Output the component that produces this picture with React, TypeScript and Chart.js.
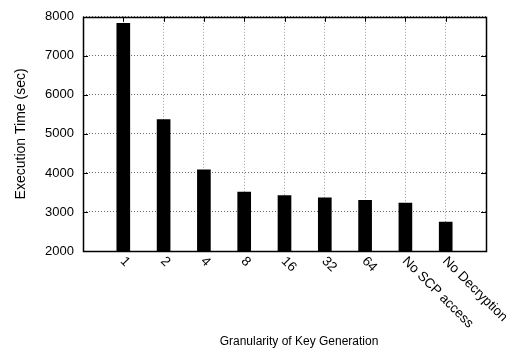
import React, { useEffect, useRef } from "react";
import { Chart, registerables } from "chart.js";

Chart.register(...registerables);

const categories: string[] = ["1", "2", "4", "8", "16", "32", "64", "No SCP access", "No Decryption"];
const executionTimes: number[] = [7830, 5370, 4080, 3510, 3420, 3360, 3300, 3230, 2740];
const yTicks: number[] = [2000, 3000, 4000, 5000, 6000, 7000, 8000];
const xTitle = "Granularity of Key Generation";
const yTitle = "Execution Time (sec)";

const FAMILY = "'Liberation Sans', Arial, sans-serif";

const decorPlugin = {
  id: "decor",
  afterDraw(chart: any) {
    const { ctx, chartArea } = chart;
    const xs = chart.scales.x;
    const ys = chart.scales.y;
    const { left, right, top, bottom } = chartArea;
    ctx.save();
    // inner tick marks
    ctx.strokeStyle = "#000";
    ctx.lineWidth = 1;
    ctx.beginPath();
    yTicks.forEach((v) => {
      const y = Math.round(ys.getPixelForValue(v)) + 0.5;
      ctx.moveTo(left, y);
      ctx.lineTo(left + 5, y);
      ctx.moveTo(right, y);
      ctx.lineTo(right - 5, y);
    });
    categories.forEach((_, i) => {
      const x = Math.round(xs.getPixelForValue(i + 1)) + 0.5;
      ctx.moveTo(x, top);
      ctx.lineTo(x, top + 5);
      ctx.moveTo(x, bottom);
      ctx.lineTo(x, bottom - 5);
    });
    ctx.stroke();
    // box
    ctx.lineWidth = 1.5;
    ctx.strokeRect(Math.round(left) + 0.5, Math.round(top) + 0.5, Math.round(right - left), Math.round(bottom - top));
    // rotated category labels
    ctx.fillStyle = "#000";
    ctx.font = `13.5px ${FAMILY}`;
    ctx.textAlign = "left";
    ctx.textBaseline = "middle";
    categories.forEach((label, i) => {
      const x = xs.getPixelForValue(i + 1);
      ctx.save();
      ctx.translate(x - 1, bottom + 8);
      ctx.rotate(Math.PI / 4);
      ctx.fillText(label, 0, 0);
      ctx.restore();
    });
    // x title
    ctx.font = `12px ${FAMILY}`;
    ctx.textAlign = "center";
    ctx.textBaseline = "alphabetic";
    ctx.fillText(xTitle, 299, 345);
    // y title
    ctx.font = `14px ${FAMILY}`;
    ctx.save();
    ctx.translate(21, (top + bottom) / 2);
    ctx.rotate(-Math.PI / 2);
    ctx.textAlign = "center";
    ctx.textBaseline = "middle";
    ctx.fillText(yTitle, 0, 0);
    ctx.restore();
    ctx.restore();
  },
};

export default function App() {
  const canvasRef = useRef<HTMLCanvasElement | null>(null);

  useEffect(() => {
    if (!canvasRef.current) return;
    const labels = ["", ...categories, ""];
    const data = [null, ...executionTimes, null];
    const chart = new Chart(canvasRef.current, {
      type: "bar",
      data: {
        labels,
        datasets: [
          {
            data,
            backgroundColor: "#000",
            borderWidth: 0,
            barThickness: 13,
          },
        ],
      },
      options: {
        animation: false,
        responsive: false,
        devicePixelRatio: 1,
        layout: { padding: { left: 0, right: 20, top: 14, bottom: 0 } },
        plugins: {
          legend: { display: false },
          tooltip: { enabled: false },
        },
        scales: {
          x: {
            offset: false,
            grid: {
              offset: false,
              color: "#9a9a9a",
              drawTicks: false,
              lineWidth: 1,
            },
            border: { display: false, dash: [1, 2] },
            ticks: { display: false },
            afterFit: (scale: any) => {
              scale.height = 102;
            },
          },
          y: {
            min: 2000,
            max: 8000,
            afterBuildTicks: (scale: any) => {
              scale.ticks = yTicks.map((v) => ({ value: v }));
            },
            grid: {
              color: "#6a6a6a",
              drawTicks: false,
              lineWidth: 1,
            },
            border: { display: false, dash: [1, 2] },
            ticks: {
              padding: 9,
              color: "#000",
              font: { family: FAMILY, size: 13 },
              callback: (value: any) => String(value),
            },
            afterFit: (scale: any) => {
              scale.width = 83;
            },
          },
        },
      },
      plugins: [decorPlugin],
    });
    return () => chart.destroy();
  }, []);

  return (
    <div style={{ position: "fixed", left: 0, top: 0, width: 506, height: 353, background: "#fff" }}>
      <canvas ref={canvasRef} width={506} height={353} style={{ width: 506, height: 353 }} />
    </div>
  );
}
